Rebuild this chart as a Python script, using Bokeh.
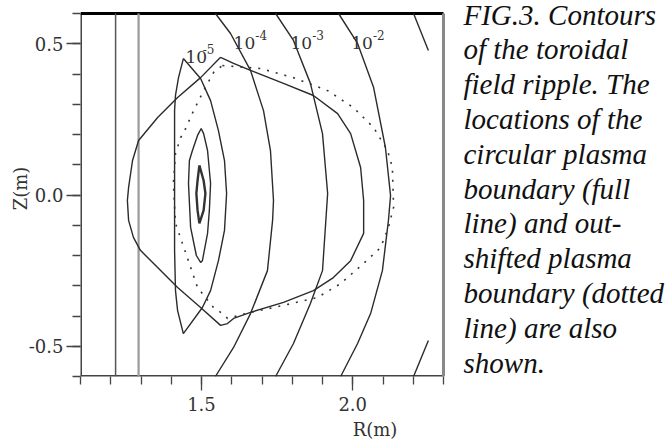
from bokeh.plotting import figure
from bokeh.models import Range1d, FixedTicker, PrintfTickFormatter, Label
from bokeh.core.properties import value
from bokeh.embed import file_html
from bokeh.resources import INLINE

# ---- data (R, Z in metres) ----
R_lim = [1.1, 2.3]
Z_lim = [-0.6, 0.6]

coil_R = [1.216, 1.292]

c5_R = [1.440, 1.497, 1.530, 1.556, 1.576, 1.583, 1.576, 1.556, 1.530, 1.503, 1.440,
        1.421, 1.414, 1.411, 1.411, 1.414, 1.424, 1.440]
c5_Z = [0.451, 0.385, 0.312, 0.213, 0.114, 0.005, -0.117, -0.217, -0.316, -0.372, -0.458,
        -0.382, -0.316, -0.183, 0.279, 0.329, 0.388, 0.451]

c6_R = [1.499, 1.507, 1.520, 1.530, 1.526, 1.520, 1.503, 1.497, 1.483, 1.464, 1.457, 1.460, 1.470, 1.487, 1.499]
c6_Z = [0.220, 0.203, 0.147, 0.038, -0.051, -0.127, -0.217, -0.223, -0.200, -0.107, 0.038, 0.114, 0.147, 0.197, 0.220]

c7_R = [1.493, 1.507, 1.513, 1.507, 1.493, 1.487, 1.483, 1.487, 1.493]
c7_Z = [0.098, 0.048, 0.005, -0.051, -0.094, -0.051, 0.005, 0.048, 0.098]

c4_R = [1.546, 1.596, 1.662, 1.705, 1.728, 1.738, 1.735, 1.718, 1.662, 1.606, 1.546]
c4_Z = [0.600, 0.534, 0.412, 0.279, 0.147, -0.018, -0.084, -0.250, -0.392, -0.504, -0.600]

c3_R = [1.745, 1.804, 1.860, 1.900, 1.917, 1.900, 1.860, 1.804, 1.745]
c3_Z = [0.600, 0.511, 0.369, 0.203, 0.005, -0.250, -0.359, -0.491, -0.600]

c2_R = [1.953, 2.016, 2.069, 2.108, 2.125, 2.118, 2.098, 2.059, 2.016, 1.960]
c2_Z = [0.600, 0.501, 0.355, 0.157, -0.002, -0.084, -0.250, -0.392, -0.491, -0.600]

c1_top_R = [2.201, 2.250]
c1_top_Z = [0.600, 0.478]
c1_bot_R = [2.201, 2.250]
c1_bot_Z = [-0.600, -0.481]

circ_R = [1.563, 1.606, 1.662, 1.771, 1.870, 1.950, 1.993, 2.026, 2.036, 2.036, 1.993, 1.936,
          1.870, 1.771, 1.662, 1.606, 1.586, 1.563, 1.497, 1.421, 1.355, 1.298, 1.275, 1.259,
          1.255, 1.259, 1.272, 1.292, 1.355, 1.421, 1.497, 1.563]
circ_Z = [0.455, 0.435, 0.412, 0.369, 0.329, 0.269, 0.203, 0.091, -0.018, -0.127, -0.217, -0.273,
          -0.316, -0.355, -0.388, -0.408, -0.425, -0.431, -0.372, -0.306, -0.240, -0.183, -0.140, -0.084,
          -0.018, 0.025, 0.114, 0.180, 0.256, 0.322, 0.388, 0.455]

shift_R = [1.569, 1.695, 1.804, 1.917, 2.002, 2.069, 2.115, 2.131, 2.135, 2.118, 2.092, 2.036,
           1.960, 1.883, 1.771, 1.662, 1.586, 1.569, 1.540, 1.487, 1.437, 1.414, 1.407, 1.414,
           1.431, 1.440, 1.474, 1.507, 1.540, 1.569]
shift_Z = [0.428, 0.418, 0.388, 0.345, 0.289, 0.223, 0.147, 0.091, -0.041, -0.107, -0.174, -0.226,
           -0.293, -0.339, -0.365, -0.388, -0.408, -0.392, -0.372, -0.306, -0.160, -0.094, 0.038, 0.137,
           0.190, 0.203, 0.279, 0.345, 0.405, 0.428]

level_base = ["10", "10", "10", "10"]
level_exp = ["-5", "-4", "-3", "-2"]
label_R = [1.447, 1.606, 1.794, 1.995]
label_Z = [0.455, 0.501, 0.501, 0.501]
exp_R = [1.504, 1.678, 1.866, 2.067]
exp_Z = [0.481, 0.530, 0.530, 0.530]

x_major = [1.5, 2.0]
y_major = [-0.5, 0.0, 0.5]
x_minor = [round(1.1 + 0.1 * i, 1) for i in range(13)]
y_minor = [round(-0.6 + 0.1 * i, 1) for i in range(13)]

caption = ["FIG.3. Contours", "of the toroidal", "field ripple. The", "locations of the",
           "circular plasma", "boundary (full", "line) and out-", "shifted plasma",
           "boundary (dotted", "line) are also", "shown."]

# ---- layout geometry (pixels) ----
box_px = 363                      # size of the square plot box
scale = box_px / (R_lim[1] - R_lim[0])   # pixels per metre
left_px, top_px, extra_right_px = 80, 13, 226
frame_w = box_px + extra_right_px
frame_h = box_px + top_px

p = figure(frame_width=frame_w, frame_height=frame_h,
           min_border_left=left_px, min_border_top=0, min_border_right=0, min_border_bottom=55,
           x_range=Range1d(R_lim[0], R_lim[0] + frame_w / scale),
           y_range=Range1d(Z_lim[0], Z_lim[1] + top_px / scale),
           output_backend="svg", toolbar_location=None,
           x_axis_label="R(m)", y_axis_label="Z(m)")
p.grid.visible = False
p.outline_line_color = None
p.background_fill_color = "white"
p.border_fill_color = "white"

p.xaxis.ticker = FixedTicker(ticks=x_major, minor_ticks=x_minor)
p.yaxis.ticker = FixedTicker(ticks=y_major, minor_ticks=y_minor)
for ax in (p.xaxis, p.yaxis):
    ax.formatter = PrintfTickFormatter(format="%.1f")
    ax.axis_line_color = None
    ax.major_tick_in = 0
    ax.minor_tick_in = 0
    ax.major_tick_out = 14
    ax.minor_tick_out = 8
    ax.major_tick_line_color = "#444444"
    ax.minor_tick_line_color = "#444444"
    ax.major_tick_line_width = 1.3
    ax.minor_tick_line_width = 1.3
    ax.major_label_text_font = "DejaVu Serif"
    ax.major_label_text_font_size = "18px"
    ax.major_label_text_color = "#333333"
    ax.axis_label_text_font = "DejaVu Serif"
    ax.axis_label_text_font_size = "18px"
    ax.axis_label_text_font_style = "normal"
    ax.axis_label_text_color = "#333333"
p.xaxis.major_label_standoff = 6
p.xaxis.axis_label_standoff = 5
p.yaxis.major_label_standoff = 3
p.yaxis.axis_label_standoff = -5

# plot box borders
p.line([R_lim[0], R_lim[0]], Z_lim, line_color="#444444", line_width=3)
p.line(R_lim, [Z_lim[0], Z_lim[0]], line_color="#444444", line_width=3)
p.line(R_lim, [Z_lim[1], Z_lim[1]], line_color="black", line_width=3)
p.line([R_lim[1], R_lim[1]], Z_lim, line_color="#888888", line_width=3)

# coil lines
p.line([coil_R[0], coil_R[0]], Z_lim, line_color="#555555", line_width=1.5)
p.line([coil_R[1], coil_R[1]], Z_lim, line_color="#9a9a9a", line_width=2.2)

lc = "#2b2b2b"
for xs, ys in [(c5_R, c5_Z), (c6_R, c6_Z), (c4_R, c4_Z), (c3_R, c3_Z), (c2_R, c2_Z),
               (c1_top_R, c1_top_Z), (c1_bot_R, c1_bot_Z), (circ_R, circ_Z)]:
    p.line(xs, ys, line_color=lc, line_width=1.4)
p.line(c7_R, c7_Z, line_color="#333333", line_width=2.4)
p.line(shift_R, shift_Z, line_color="#333333", line_width=1.6, line_dash="2 7")

p.text(x=label_R, y=label_Z, text=level_base, text_font=value("DejaVu Serif"),
       text_font_size="17px", text_color="#333333", text_baseline="alphabetic", text_align="left")
p.text(x=exp_R, y=exp_Z, text=level_exp, text_font=value("DejaVu Serif"),
       text_font_size="12px", text_color="#333333", text_baseline="alphabetic", text_align="left")

# caption (right of the plot box)
cap_R = R_lim[1] + 20 / scale
cap_Z0 = Z_lim[1] - 1 / scale
cap_dz = 34.8 / scale
for i, line in enumerate(caption):
    p.add_layout(Label(x=cap_R, y=cap_Z0 - i * cap_dz, text=line,
                       text_font="Liberation Serif", text_font_style="italic",
                       text_font_size="29px", text_color="#111111",
                       text_baseline="alphabetic", text_align="left"))

open("out.html", "w").write(file_html(p, INLINE))
